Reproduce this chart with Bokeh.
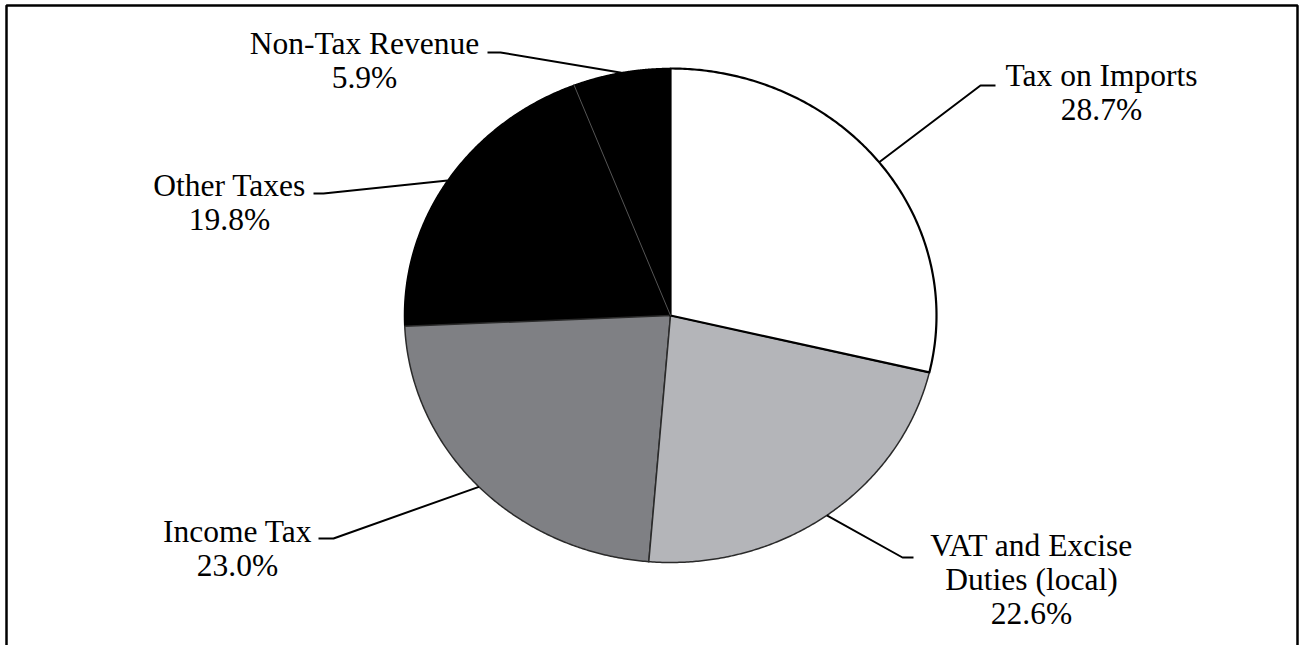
import numpy as np
from bokeh.plotting import figure
from bokeh.models import Range1d, ColumnDataSource
from bokeh.core.properties import value
from bokeh.embed import file_html
from bokeh.resources import INLINE

# ---- data ----
categories = ["Tax on Imports", "VAT and Excise Duties (local)", "Income Tax",
              "Other Taxes", "Non-Tax Revenue"]
shares = [28.7, 22.6, 23.0, 19.8, 5.9]
label_lines = [["Tax on Imports"], ["VAT and Excise", "Duties (local)"],
               ["Income Tax"], ["Other Taxes"], ["Non-Tax Revenue"]]
fill_colors = ["#ffffff", "#b4b5b9", "#7f8084", "#000000", "#000000"]
edge_colors = ["#000000", "#2a2a2a", "#2a2a2a", "#000000", "#000000"]

# ---- layout (pixel units of the canvas) ----
W, H = 1300, 645
CX, CY, RX, RY = 670, 315, 266, 247
# elbow x, elbow y, end x, text center x, first baseline y
label_layout = [
    (980, 85, 995, 1101, 85),
    (902, 557, 913, 1031, 555),
    (333, 538, 318, 237, 541),
    (323, 193, 313, 229, 195),
    (500, 52, 487, 364, 53),
]
LINE_H = 34
TEXT_DY = -10
FONT = value("Liberation Serif")
FSIZE = "31.5px"

p = figure(width=W, height=H, output_backend="svg", toolbar_location=None,
           x_range=Range1d(0, W), y_range=Range1d(H, 0), min_border=0)
p.axis.visible = False
p.grid.visible = False
p.outline_line_color = None
p.background_fill_color = "white"
p.border_fill_color = "white"

# frame (open at bottom)
p.line([6, 6, 1297, 1297], [H + 5, 5, 5, H + 5], line_color="black", line_width=2.5)

# pie slices
total = float(sum(shares))
cum = np.concatenate([[0.0], np.cumsum(shares)]) / total * 2 * np.pi
xs, ys = [], []
for i in range(len(shares)):
    t = np.linspace(cum[i], cum[i + 1], 200)
    xs.append(np.concatenate([[CX], CX + RX * np.sin(t), [CX]]))
    ys.append(np.concatenate([[CY], CY - RY * np.cos(t), [CY]]))

order = [3, 4, 2, 1, 0]
p.patches([xs[i] for i in order], [ys[i] for i in order],
          fill_color=[fill_colors[i] for i in order],
          line_color=[edge_colors[i] for i in order],
          line_width=[1.5, 1.5, 1.5, 1.5, 2.2], line_join="round")

# faint divider between the two black slices
a = cum[4]
p.line([CX, CX + RX * np.sin(a)], [CY, CY - RY * np.cos(a)],
       line_color="#555555", line_width=1)

# leader lines and labels
mid = (cum[:-1] + cum[1:]) / 2
tx, ty, tt = [], [], []
for i in range(len(shares)):
    ex, ey, endx, tcx, by = label_layout[i]
    px, py = CX + RX * np.sin(mid[i]), CY - RY * np.cos(mid[i])
    p.line([px, ex, endx], [py, ey, ey], line_color="black", line_width=2)
    lines = label_lines[i] + [f"{shares[i]:.1f}%"]
    for k, s in enumerate(lines):
        tx.append(tcx)
        ty.append(by + TEXT_DY + k * LINE_H)
        tt.append(s)

src = ColumnDataSource(dict(x=tx, y=ty, text=tt))
p.text(x="x", y="y", text="text", source=src, text_font=FONT,
       text_font_size=FSIZE, text_align="center", text_baseline="alphabetic",
       text_color="black")

open("out.html", "w").write(file_html(p, INLINE))
